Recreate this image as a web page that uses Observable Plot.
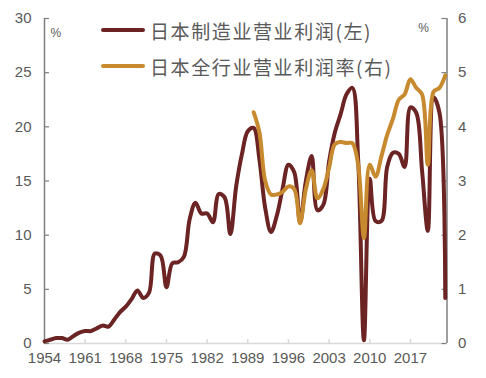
<!DOCTYPE html>
<html>
<head>
<meta charset="utf-8">
<script src="https://cdn.jsdelivr.net/npm/d3@7"></script>
<script src="https://cdn.jsdelivr.net/npm/@observablehq/plot@0.6"></script>
<style>
  body { margin: 0; background: #fff; }
  #wrap { position: relative; width: 486px; height: 378px; overflow: hidden; }
  .leg { position: absolute; left: 101px; height: 24px; display: flex; align-items: center;
         font-family: "Noto Sans CJK SC", sans-serif; font-size: 19px; color: #595959; letter-spacing: 1.6px; white-space: nowrap; }
  .sw { display: inline-block; width: 44px; height: 4px; border-radius: 2px; margin-right: 5px; }
</style>
</head>
<body>
<div id="wrap"></div>
<script>
// ---- data ----
const years = [1954,1955,1956,1957,1958,1959,1960,1961,1962,1963,1964,1965,1966,1967,1968,1969,
  1970,1971,1972,1973,1974,1975,1976,1977,1978,1979,1980,1981,1982,1983,1984,1985,1986,1987,1988,1989,
  1990,1991,1992,1993,1994,1995,1996,1997,1998,1999,2000,2001,2002,2003,2004,2005,2006,2007,2008,2009,
  2010,2011,2012,2013,2014,2015,2016,2017,2018,2019,2020,2021,2022,2023];
const mfgProfit = [0.2,0.35,0.5,0.5,0.35,0.7,1.0,1.15,1.15,1.4,1.65,1.55,2.2,2.9,3.4,4.1,
  4.9,4.2,4.7,8.3,8.1,5.2,7.4,7.5,8.0,11.5,13.0,12.0,12.0,11.2,13.8,13.5,10.1,14.5,17.5,19.6,
  19.9,17.0,12.5,10.3,11.8,14.3,16.5,15.8,11.2,15.0,17.3,12.3,12.8,16.8,19.5,21.2,23.0,23.6,17.0,0.3,
  15.2,11.3,11.3,16.3,17.6,17.5,16.3,21.8,21.3,16.0,10.4,22.7,21.3,4.2];
const allYears = [1990,1991,1992,1993,1994,1995,1996,1997,1998,1999,2000,2001,2002,2003,2004,2005,2006,
  2007,2008,2009,2010,2011,2012,2013,2014,2015,2016,2017,2018,2019,2020,2021,2022,2023];
const allMargin = [4.27,3.9,3.0,2.75,2.75,2.8,2.9,2.85,2.22,2.85,3.2,2.68,2.85,3.25,3.68,3.72,3.7,
  3.7,3.3,1.95,3.3,3.08,3.45,3.85,4.15,4.5,4.6,4.88,4.72,4.6,3.3,4.65,4.72,4.95];
const seriesNames = ["日本制造业营业利润(左)", "日本全行业营业利润率(右)"];
const seriesColors = ["#6B2323", "#C78A2F"];
const leftTicks = [0,5,10,15,20,25,30];
const rightTicks = [0,1,2,3,4,5,6];
const xTicks = [1954,1961,1968,1975,1982,1989,1996,2003,2010,2017];
const xDomain = [1954, 2023.3];
const unitLabel = "%";

// ---- layout ----
const W = 486, H = 378, mL = 44, mR = 39.5, mT = 18, mB = 35;
const plotW = W - mL - mR, plotH = H - mT - mB;
const ratio = leftTicks[leftTicks.length-1] / rightTicks[rightTicks.length-1];

const mfg = years.map((y,i) => ({year: y, v: mfgProfit[i]}));
const all = allYears.map((y,i) => ({year: y, v: allMargin[i] * ratio}));

const axisGray = "#7f7f7f", baseGray = "#d9d9d9", textGray = "#595959";

const chart = Plot.plot({
  width: W, height: H,
  marginLeft: mL, marginRight: mR, marginTop: mT, marginBottom: mB,
  x: {domain: xDomain},
  y: {domain: [leftTicks[0], leftTicks[leftTicks.length-1]]},
  style: {fontFamily: "'Liberation Sans', Arial, sans-serif", fontSize: "15px", color: textGray, background: "white", overflow: "visible"},
  marks: [
    Plot.ruleY([0], {stroke: baseGray, strokeWidth: 1.5}),
    Plot.tickX(xTicks, {x: d => d, stroke: baseGray, strokeWidth: 1.5, insetTop: plotH - 4}),
    Plot.ruleX([xDomain[0]], {stroke: axisGray, strokeWidth: 1.5}),
    Plot.ruleX([xDomain[1]], {stroke: axisGray, strokeWidth: 1.5}),
    Plot.tickY(leftTicks, {y: d => d, stroke: axisGray, strokeWidth: 1.2, insetRight: plotW - 5}),
    Plot.tickY(leftTicks, {y: d => d, stroke: axisGray, strokeWidth: 1.2, insetLeft: plotW - 5}),
    Plot.axisY(leftTicks, {anchor: "left", tickSize: 0, tickPadding: 13, label: null, fontSize: 15, fill: textGray}),
    Plot.axisY(rightTicks.map(t => t * ratio), {anchor: "right", tickSize: 0, tickPadding: 11, label: null, fontSize: 15, fill: textGray, tickFormat: d => String(d / ratio)}),
    Plot.axisX(xTicks, {anchor: "bottom", tickSize: 0, tickPadding: 9, label: null, fontSize: 15, fill: textGray, tickFormat: d => String(d)}),
    Plot.text([unitLabel], {frameAnchor: "top-left", dx: 6, dy: 10, fontSize: 12, fill: textGray}),
    Plot.text([unitLabel], {frameAnchor: "top-right", dx: -18, dy: 5, fontSize: 12, fill: textGray}),
    Plot.line(mfg, {x: "year", y: "v", stroke: seriesColors[0], strokeWidth: 4, curve: "catmull-rom", strokeLinecap: "round", strokeLinejoin: "round"}),
    Plot.line(all, {x: "year", y: "v", stroke: seriesColors[1], strokeWidth: 4, curve: "catmull-rom", strokeLinecap: "round", strokeLinejoin: "round"})
  ]
});

const wrap = document.getElementById("wrap");
wrap.appendChild(chart);
const legTops = [18, 54];
seriesNames.forEach((name, i) => {
  const d = document.createElement("div");
  d.className = "leg";
  d.style.top = legTops[i] + "px";
  const sw = document.createElement("span");
  sw.className = "sw";
  sw.style.background = seriesColors[i];
  const t = document.createElement("span");
  t.textContent = name;
  d.appendChild(sw); d.appendChild(t);
  wrap.appendChild(d);
});
</script>
</body>
</html>
